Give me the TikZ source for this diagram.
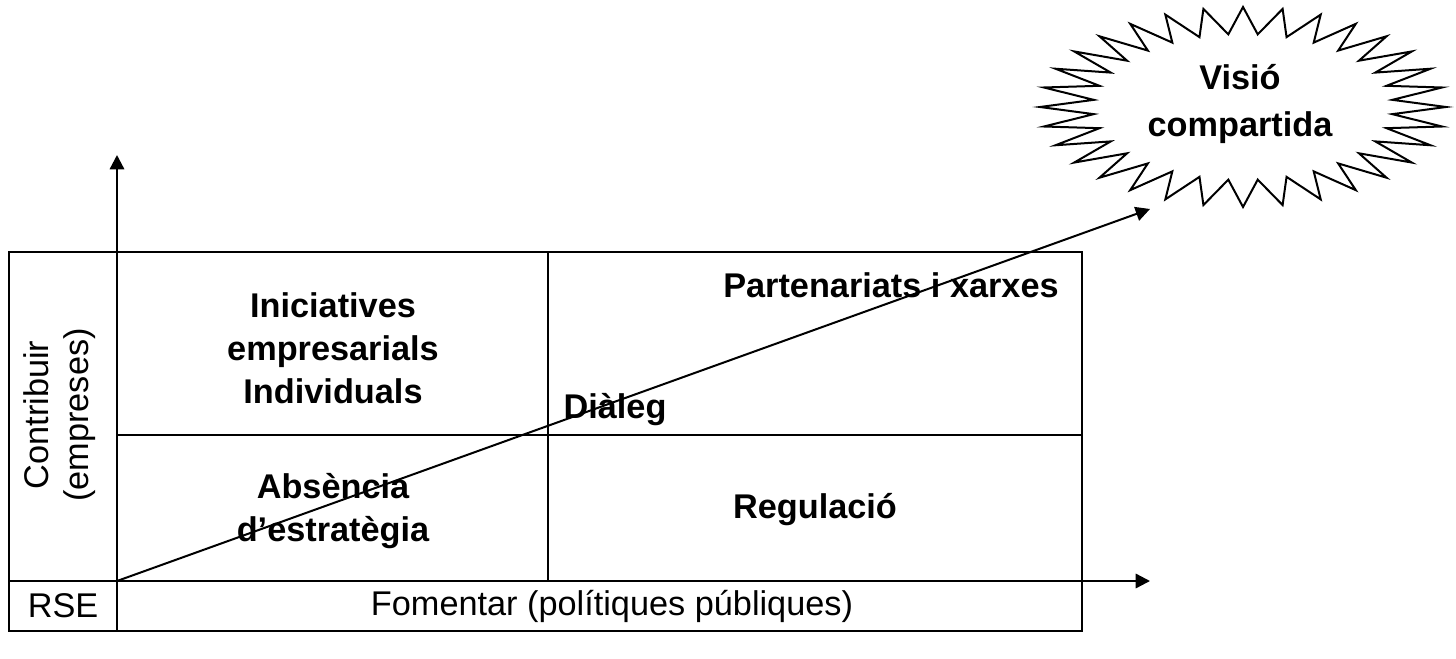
\documentclass[tikz,border=0pt]{standalone}
\usepackage{fontspec}
\setmainfont{Liberation Sans}
\usepackage{tikz}
\usetikzlibrary{arrows.meta,positioning}

\begin{document}
\begin{tikzpicture}[x=0.35pt,y=-0.35pt,>={Triangle[length=5pt,width=5pt]},
  box/.style={line width=1pt},
  axis/.style={->,line width=0.8pt},
  lbl/.style={font=\bfseries\fontsize{12}{15}\selectfont,align=center},
  plain/.style={font=\fontsize{12}{14}\selectfont,align=center},
  burst/.style={draw,line width=0.7pt,line join=miter}]

    \useasboundingbox (0,0) rectangle (1456,659);

    % The grid
    \coordinate (O) at (117,581);
    \coordinate (TL) at (9,252);
    \coordinate (BR) at (1082,631);
    \coordinate (Ytop) at (117,155);
    \coordinate (Xend) at (1150,581);
    \coordinate (Vtip) at (1150,209);

    \draw[box] (TL) rectangle (BR);
    \draw[box] (548,252) -- (548,581);
    \draw[box] (117,435) -- (1082,435);
    \draw[box] (117,631) -- (O);
    \draw[axis] (O) -- (Ytop);
    \draw[axis] (9,581) -- (Xend);

    % Labels
    \node [lbl] at (333,348) (indiv) {Iniciatives\\empresarials\\Individuals};
    \node [lbl] at (891,285) (partner) {Partenariats i xarxes};
    \node [lbl] at (615,410) (dialeg) {Diàleg};
    \node [lbl] at (333,511) (absencia) {Absència\\d’estratègia};
    \node [lbl] at (815,510) (regulacio) {Regulació};
    \node [plain] at (612,606) (fomentar) {Fomentar (polítiques públiques)};
    \node [plain] at (63,606) (rse) {RSE};
    \node [plain,rotate=90] at (60,415) (contribuir) {Contribuir\\(empreses)};

    % The star
    \draw[burst] (1446,107) \foreach \k in {0,...,31} {
        -- ({1243+150*cos(\k*11.25+5.625)},{107+73*sin(\k*11.25+5.625)})
        -- ({1243+203*cos((\k+1)*11.25)},{107+100*sin((\k+1)*11.25)}) } -- cycle;
    \node [lbl,font=\bfseries\fontsize{12}{16.5}\selectfont] at (1240,104) (visio) {Visió\\compartida};

    % Trajectory
    \draw[axis,line width=0.7pt] (O) -- (Vtip);

\end{tikzpicture}
\end{document}
